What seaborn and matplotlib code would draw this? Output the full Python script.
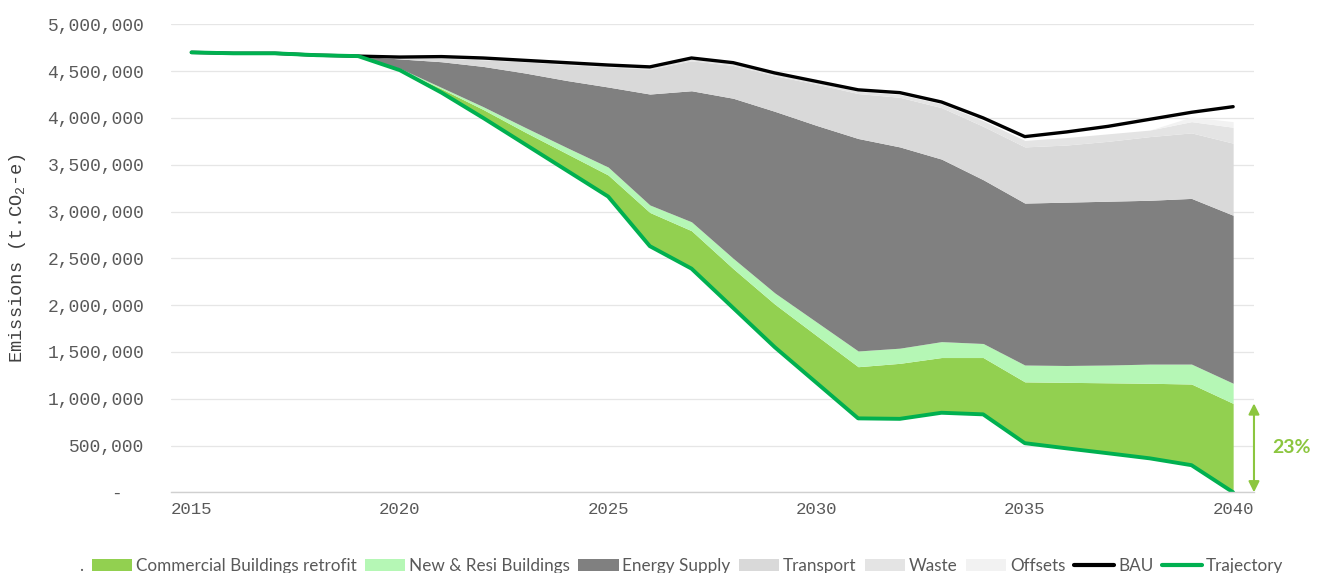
import numpy as np
import pandas as pd
import matplotlib
matplotlib.use('Agg')
import matplotlib.pyplot as plt
import matplotlib.ticker as mticker
from matplotlib.patches import Patch
from matplotlib.lines import Line2D
import seaborn as sns

# Values (t CO2-e)
years = list(range(2015, 2041))

trajectory = [4700000, 4690000, 4690000, 4670000, 4660000, 4510000, 4270000, 4000000, 3720000,
              3440000, 3160000, 2630000, 2390000, 1970000, 1550000, 1170000, 790000, 785000,
              850000, 833000, 525000, 470000, 417000, 363000, 290000, 0]

# stacked wedges sitting on top of the trajectory
commercial = [0, 0, 0, 0, 0, 10000, 40000, 90000, 130000, 180000, 230000, 360000, 405000,
              420000, 460000, 505000, 552000, 593000, 590000, 607000, 655000, 705000, 753000,
              802000, 867000, 950000]
new_resi = [0, 0, 0, 0, 0, 10000, 15000, 30000, 50000, 65000, 85000, 80000, 95000, 110000,
            120000, 145000, 168000, 162000, 170000, 150000, 180000, 180000, 190000, 205000,
            213000, 215000]
energy = [0, 0, 0, 0, 0, 100000, 275000, 430000, 580000, 715000, 855000, 1185000, 1400000,
          1710000, 1940000, 2100000, 2270000, 2150000, 1950000, 1750000, 1730000, 1745000,
          1750000, 1750000, 1770000, 1795000]
transport = [0, 0, 0, 0, 0, 15000, 40000, 70000, 120000, 170000, 215000, 265000, 320000,
             350000, 380000, 440000, 480000, 530000, 550000, 570000, 600000, 610000, 640000,
             680000, 700000, 770000]
waste = [0, 0, 0, 0, 0, 5000, 10000, 15000, 15000, 15000, 15000, 15000, 20000, 20000, 20000,
         20000, 25000, 30000, 40000, 60000, 70000, 80000, 80000, 70000, 120000, 170000]
offsets = [0, 0, 0, 0, 0, 0, 0, 0, 0, 0, 0, 0, 0, 0, 0, 0, 0, 0, 0, 0, 0, 0, 0, 0, 50000, 60000]

bau = [4700000, 4690000, 4690000, 4670000, 4660000, 4650000, 4655000, 4640000, 4615000,
       4590000, 4565000, 4545000, 4640000, 4590000, 4480000, 4390000, 4300000, 4270000,
       4170000, 4000000, 3800000, 3850000, 3910000, 3985000, 4060000, 4120000]

reduction_label = '23%'

area_names = ['Commercial Buildings retrofit', 'New & Resi Buildings', 'Energy Supply',
              'Transport', 'Waste', 'Offsets']
area_colors = ['#92D050', '#B5F7B5', '#808080', '#D9D9D9', '#E4E4E4', '#F2F2F2']

sns.set_theme(style='white')
plt.rcParams['font.family'] = ['Liberation Mono', 'DejaVu Sans Mono']
plt.rcParams['mathtext.fontset'] = 'custom'
plt.rcParams['mathtext.rm'] = 'Liberation Mono'

df = pd.DataFrame({'year': years, 'BAU': bau, 'Trajectory': trajectory})

fig = plt.figure(figsize=(13.25, 5.73), dpi=100)
ax = fig.add_axes([0.1288, 0.1408, 0.8176, 0.8168])

ax.stackplot(years, trajectory, commercial, new_resi, energy, transport, waste, offsets,
             colors=['none'] + area_colors, linewidth=0)

sns.lineplot(data=df, x='year', y='BAU', color='black', lw=2.4, ax=ax)
sns.lineplot(data=df, x='year', y='Trajectory', color='#00B050', lw=2.8, ax=ax)

ax.set_xlim(2014.5, 2040.5)
ax.set_ylim(0, 5000000)

ax.set_yticks(np.arange(0, 5000001, 500000))
ax.yaxis.set_major_formatter(mticker.FuncFormatter(
    lambda v, p: '-  ' if v == 0 else f'{int(v):,}'))
ax.set_xticks([2015, 2020, 2025, 2030, 2035, 2040])
ax.set_xticks(np.arange(2014.5, 2041, 1), minor=True)

ax.tick_params(axis='y', length=0, pad=19, labelsize=13, labelcolor='#595959')
ax.tick_params(axis='x', which='major', length=0, pad=7, labelsize=12.5, labelcolor='#595959')
ax.tick_params(axis='x', which='minor', length=5, direction='in', color='#D0D0D0', width=0.8)

ax.yaxis.grid(True, color='#E6E6E6', lw=0.9)
ax.set_axisbelow(True)
for s in ['top', 'right', 'left']:
    ax.spines[s].set_visible(False)
ax.spines['bottom'].set_color('#D0D0D0')
ax.spines['bottom'].set_linewidth(1)

ax.set_xlabel('')
ax.set_ylabel(r'Emissions (t.CO$_2$-e)', fontsize=13.5, color='#404040')
ax.yaxis.set_label_coords(-0.1315, 0.5)

# reduction arrow at the end
top_2040 = trajectory[-1] + commercial[-1]
ax.annotate('', xy=(2040.5, trajectory[-1]), xytext=(2040.5, top_2040),
            arrowprops=dict(arrowstyle='<|-|>', color='#8CC63F', lw=1.5,
                            mutation_scale=16, shrinkA=0, shrinkB=0),
            annotation_clip=False)
ax.text(2040.95, top_2040 / 2, reduction_label, color='#8CC63F', fontsize=14,
        fontweight='bold', family='Lato', va='center', ha='left')

handles = [Patch(facecolor='none', edgecolor='none', label='.')]
handles += [Patch(facecolor=c, edgecolor='none', label=n) for n, c in zip(area_names, area_colors)]
handles += [Line2D([], [], color='black', lw=3, label='BAU'),
            Line2D([], [], color='#00B050', lw=3, label='Trajectory')]
fig.legend(handles=handles, loc='center right', bbox_to_anchor=(1283 / 1325, 0.012),
           ncol=len(handles), frameon=False, borderpad=0, borderaxespad=0,
           prop={'family': 'Lato', 'size': 12.3}, labelcolor='#595959',
           handlelength=2.35, handleheight=0.75, handletextpad=0.22, columnspacing=0.5)

fig.savefig('out.png', dpi=100)
